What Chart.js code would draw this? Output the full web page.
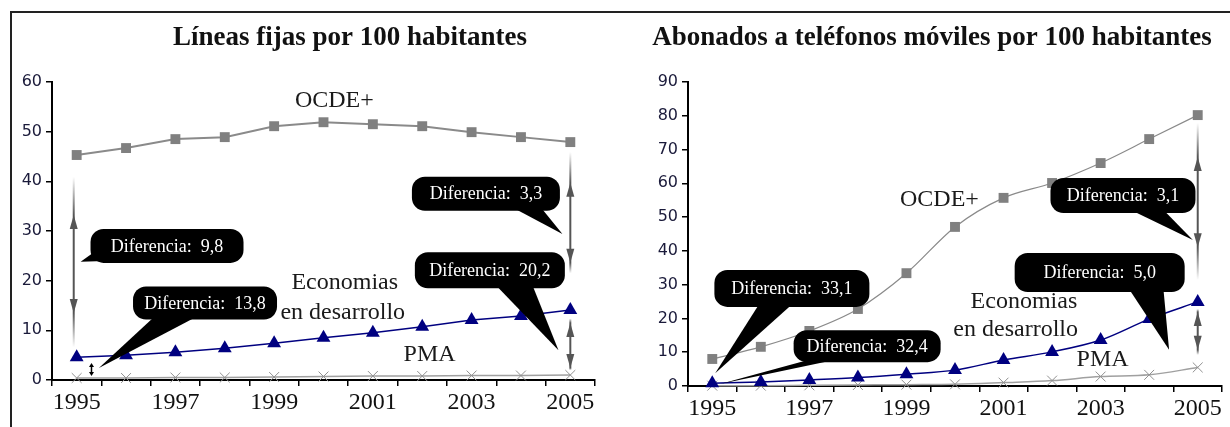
<!DOCTYPE html>
<html lang="es">
<head>
<meta charset="utf-8">
<script src="https://cdn.jsdelivr.net/npm/chart.js@4.4.1/dist/chart.umd.min.js"></script>
<style>
  html, body { margin: 0; padding: 0; background: #fff; }
  #marco { position: absolute; left: 10px; top: 11px; width: 1220px; height: 416px; border-left: 2px solid #222; border-top: 2px solid #222; }
  .panel { position: absolute; top: 0; width: 615px; height: 427px; }
  #izq { left: 0; }
  #der { left: 615px; }
</style>
</head>
<body>
<div id="marco"></div>
<div class="panel" id="izq"><canvas id="fijas"></canvas></div>
<div class="panel" id="der"><canvas id="moviles"></canvas></div>
<script>
// Años (categorías)
const anios = ['1995', '1996', '1997', '1998', '1999', '2000', '2001', '2002', '2003', '2004', '2005'];

// Líneas fijas por 100 habitantes
const fijasOCDE = [45.3, 46.7, 48.5, 48.9, 51.1, 51.9, 51.5, 51.1, 49.9, 48.9, 47.9];
const fijasEcon = [4.6, 5.0, 5.6, 6.4, 7.4, 8.5, 9.5, 10.7, 12.1, 12.9, 14.1];
const fijasPMA = [0.4, 0.4, 0.5, 0.5, 0.6, 0.7, 0.8, 0.8, 0.9, 0.9, 1.0];

// Abonados a teléfonos móviles por 100 habitantes
const movilOCDE = [8.0, 11.6, 16.3, 22.8, 33.4, 47.1, 55.7, 60.1, 66.0, 73.1, 80.2];
const movilEcon = [0.8, 1.2, 1.8, 2.5, 3.5, 4.7, 7.7, 10.1, 13.6, 19.8, 24.9];
const movilPMA = [0.1, 0.1, 0.2, 0.3, 0.4, 0.5, 1.0, 1.6, 2.8, 3.3, 5.5];

const SERIF = "'Liberation Serif', 'Times New Roman', serif";

// índice decimal de categoría -> pixel
function px(chart, i) {
    const x = chart.scales.x;
    const a = x.getPixelForTick(0), b = x.getPixelForTick(1);
    return a + i * (b - a);
}
function py(chart, v) {
    return chart.scales.y.getPixelForValue(v);
}

function cabeza(ctx, x, y, dir, largo, ancho) {
    ctx.beginPath();
    ctx.moveTo(x, y);
    ctx.lineTo(x - ancho / 2, y + dir * largo);
    ctx.lineTo(x + ancho / 2, y + dir * largo);
    ctx.closePath();
    ctx.fill();
}

// Flecha gris doble con degradado en los extremos
function flechaGris(chart, f) {
    const ctx = chart.ctx;
    const x = px(chart, f.i);
    const y0 = py(chart, f.arriba), y1 = py(chart, f.abajo);
    const h0 = py(chart, f.puntaArriba), h1 = py(chart, f.puntaAbajo);
    const g = ctx.createLinearGradient(0, y0, 0, y1);
    const t0 = (h0 - y0) / (y1 - y0), t1 = (h1 - y0) / (y1 - y0);
    g.addColorStop(0, 'rgba(85,85,85,0)');
    g.addColorStop(Math.max(0, Math.min(1, t0)), 'rgba(85,85,85,1)');
    g.addColorStop(Math.max(0, Math.min(1, t1)), 'rgba(85,85,85,1)');
    g.addColorStop(1, 'rgba(85,85,85,0)');
    ctx.save();
    ctx.strokeStyle = g;
    ctx.lineWidth = 2;
    ctx.beginPath();
    ctx.moveTo(x, y0);
    ctx.lineTo(x, y1);
    ctx.stroke();
    ctx.fillStyle = '#555';
    cabeza(ctx, x, h0, 1, 14, 8);
    cabeza(ctx, x, h1, -1, 14, 8);
    ctx.restore();
}

function flechaNegra(chart, f) {
    const ctx = chart.ctx;
    const x = px(chart, f.i);
    const y0 = py(chart, f.arriba), y1 = py(chart, f.abajo);
    ctx.save();
    ctx.strokeStyle = '#000';
    ctx.fillStyle = '#000';
    ctx.lineWidth = 1.5;
    ctx.beginPath();
    ctx.moveTo(x, y0 + 3);
    ctx.lineTo(x, y1 - 3);
    ctx.stroke();
    cabeza(ctx, x, y0, 1, 4, 5);
    cabeza(ctx, x, y1, -1, 4, 5);
    ctx.restore();
}

function globo(chart, c) {
    const ctx = chart.ctx;
    const cx = px(chart, c.i), cy = py(chart, c.v);
    const tx = px(chart, c.punta[0]), ty = py(chart, c.punta[1]);
    ctx.save();
    ctx.fillStyle = '#000';
    ctx.beginPath();
    ctx.moveTo(cx + c.base[0][0], cy + c.base[0][1]);
    ctx.lineTo(tx, ty);
    ctx.lineTo(cx + c.base[1][0], cy + c.base[1][1]);
    ctx.closePath();
    ctx.fill();
    ctx.beginPath();
    ctx.roundRect(cx - c.w / 2, cy - c.h / 2, c.w, c.h, 13);
    ctx.fill();
    ctx.fillStyle = '#fff';
    ctx.font = '18px ' + SERIF;
    ctx.textAlign = 'center';
    ctx.textBaseline = 'middle';
    ctx.fillText(c.t, cx, cy + 1);
    ctx.restore();
}

function notas(cfg) {
    return {
        id: 'notas',
        afterDatasetsDraw(chart) {
            const ctx = chart.ctx;
            cfg.flechas.forEach(f => flechaGris(chart, f));
            (cfg.negras || []).forEach(f => flechaNegra(chart, f));
            cfg.globos.forEach(c => globo(chart, c));
            ctx.save();
            ctx.fillStyle = '#1a1a1a';
            ctx.font = '24px ' + SERIF;
            ctx.textAlign = 'center';
            ctx.textBaseline = 'middle';
            cfg.textos.forEach(t => ctx.fillText(t.t, px(chart, t.i), py(chart, t.v)));
            ctx.font = 'bold 27px ' + SERIF;
            ctx.fillStyle = '#111';
            ctx.fillText(cfg.titulo, cfg.tituloX, 38);
            ctx.restore();
        }
    };
}

function series(ocde, econ, pma, curva) {
    const comun = { clip: false, cubicInterpolationMode: curva ? 'monotone' : 'default', tension: curva ? 0.4 : 0 };
    return [
        Object.assign({ label: 'OCDE+', data: ocde, borderColor: '#8a8a8a', backgroundColor: '#808080', borderWidth: curva ? 1.2 : 2,
            pointStyle: 'rect', pointRadius: 7, pointBorderWidth: 0 }, comun),
        Object.assign({ label: 'Economias en desarrollo', data: econ, borderColor: '#000080', backgroundColor: '#000080', borderWidth: 1.5,
            pointStyle: 'triangle', pointRadius: 8, pointBorderWidth: 0 }, comun),
        Object.assign({ label: 'PMA', data: pma, borderColor: '#a0a0a0', backgroundColor: '#a0a0a0', borderWidth: 1.5,
            pointStyle: 'crossRot', pointRadius: 7, pointBorderColor: '#909090', pointBorderWidth: 1 }, comun)
    ];
}

function opciones(yMax, yAncho, xAlto, padDer) {
    return {
        responsive: true,
        maintainAspectRatio: false,
        animation: false,
        layout: { padding: { left: 0, right: padDer, top: 82, bottom: 0 } },
        plugins: { legend: { display: false }, tooltip: { enabled: false }, title: { display: false } },
        scales: {
            x: {
                type: 'category',
                offset: true,
                grid: { offset: true, drawOnChartArea: false, drawTicks: true, tickLength: 6, color: '#000', lineWidth: 1.5 },
                border: { color: '#000', width: 2 },
                ticks: {
                    autoSkip: false, maxRotation: 0, padding: 2, color: '#111',
                    font: { family: SERIF, size: 24 },
                    callback: function (v, i) { return i % 2 === 0 ? this.getLabelForValue(v) : ''; }
                },
                afterFit: s => { s.height = xAlto; }
            },
            y: {
                min: 0, max: yMax,
                ticks: { stepSize: 10, padding: 4, color: '#1a1a3a', font: { family: 'DejaVu Sans', size: 16 } },
                grid: { drawOnChartArea: false, drawTicks: true, tickLength: 6, color: '#000', lineWidth: 1.5 },
                border: { color: '#000', width: 2 },
                afterFit: s => { s.width = yAncho; }
            }
        }
    };
}

new Chart(document.getElementById('fijas'), {
    type: 'line',
    data: { labels: anios, datasets: series(fijasOCDE, fijasEcon, fijasPMA, false) },
    options: opciones(60, 52, 47, 20),
    plugins: [notas({
        titulo: 'Líneas fijas por 100 habitantes', tituloX: 350,
        flechas: [
            { i: -0.06, arriba: 40.9, puntaArriba: 33.2, puntaAbajo: 13.5, abajo: 6.6 },
            { i: 10.0, arriba: 45.9, puntaArriba: 39.7, puntaAbajo: 23.6, abajo: 21.5 },
            { i: 10.0, arriba: 12.4, puntaArriba: 11.5, puntaAbajo: 2.4, abajo: 2.0 }
        ],
        negras: [{ i: 0.3, arriba: 3.4, abajo: 0.8 }],
        globos: [
            { t: 'Diferencia:  9,8', i: 1.83, v: 27.0, w: 153, h: 34, punta: [0.08, 23.8], base: [[-70, 4], [-62, 15]] },
            { t: 'Diferencia:  13,8', i: 2.6, v: 15.5, w: 144, h: 33, punta: [0.45, 2.4], base: [[-51, 14], [-9, 14]] },
            { t: 'Diferencia:  3,3', i: 8.29, v: 37.5, w: 148, h: 34, punta: [9.84, 29.4], base: [[29, 15], [56, 15]] },
            { t: 'Diferencia:  20,2', i: 8.37, v: 22.1, w: 150, h: 36, punta: [9.76, 6.0], base: [[7, 16], [43, 16]] }
        ],
        textos: [
            { t: 'OCDE+', i: 5.22, v: 56.2 },
            { t: 'Economias', i: 5.43, v: 19.5 },
            { t: 'en desarrollo', i: 5.39, v: 13.5 },
            { t: 'PMA', i: 7.15, v: 5.0 }
        ]
    })]
});

new Chart(document.getElementById('moviles'), {
    type: 'line',
    data: { labels: anios, datasets: series(movilOCDE, movilEcon, movilPMA, true) },
    options: opciones(90, 73, 41, 5),
    plugins: [notas({
        titulo: 'Abonados a teléfonos móviles por 100 habitantes', tituloX: 317,
        flechas: [
            { i: 10.0, arriba: 77.9, puntaArriba: 67.8, puntaAbajo: 41.1, abajo: 31.4 },
            { i: 10.0, arriba: 22.8, puntaArriba: 21.9, puntaAbajo: 10.7, abajo: 9.2 }
        ],
        globos: [
            { t: 'Diferencia:  33,1', i: 1.64, v: 28.9, w: 155, h: 37, punta: [0.06, 3.8], base: [[-33, 16], [0, 16]] },
            { t: 'Diferencia:  32,4', i: 3.19, v: 11.8, w: 147, h: 32, punta: [0.16, 0.6], base: [[-60, 14], [-34, 14]] },
            { t: 'Diferencia:  3,1', i: 8.46, v: 56.4, w: 145, h: 35, punta: [9.9, 43.2], base: [[13, 17], [43, 17]] },
            { t: 'Diferencia:  5,0', i: 7.98, v: 33.6, w: 170, h: 39, punta: [9.41, 10.7], base: [[31, 19], [64, 19]] }
        ],
        textos: [
            { t: 'OCDE+', i: 4.68, v: 55.1 },
            { t: 'Economias', i: 6.42, v: 24.9 },
            { t: 'en desarrollo', i: 6.25, v: 16.6 },
            { t: 'PMA', i: 8.04, v: 7.7 }
        ]
    })]
});
</script>
</body>
</html>
